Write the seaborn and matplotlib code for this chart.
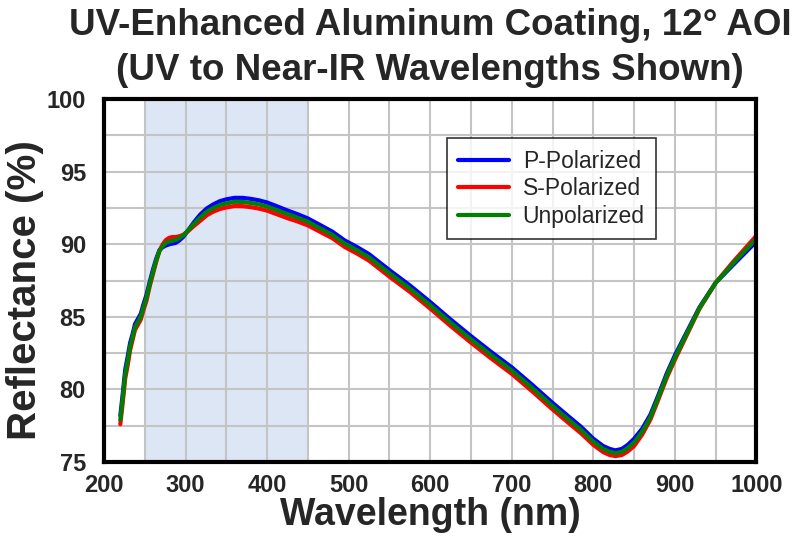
import numpy as np
import pandas as pd
import matplotlib
matplotlib.use("Agg")
import matplotlib.pyplot as plt
import seaborn as sns

# Wavelength (nm) and reflectance (%)
wavelength = [220, 223, 226, 229, 232, 235, 238, 242, 245, 248, 252, 256, 260, 264, 268, 272,
              276, 280, 284, 288, 292, 297, 303, 310, 318, 326, 334, 342, 350, 360, 370, 380,
              390, 400, 412, 425, 438, 450, 465, 480, 495, 510, 525, 550, 575, 600, 625, 650,
              675, 700, 725, 750, 770, 785, 800, 812, 820, 827, 835, 842, 850, 860, 870, 880,
              890, 900, 915, 930, 950, 970, 985, 1000]
p_pol = [78.2, 79.7, 81.35, 82.25, 83.2, 83.8, 84.5, 84.9, 85.2, 85.8, 86.5, 87.4, 88.25, 89.0, 89.6, 89.8,
         89.92, 90.0, 90.05, 90.1, 90.25, 90.5, 90.95, 91.5, 92.05, 92.47, 92.75, 92.97, 93.1, 93.2, 93.2, 93.13,
         93.03, 92.88, 92.62, 92.33, 92.06, 91.78, 91.33, 90.87, 90.27, 89.82, 89.32, 88.22, 87.17, 86.02, 84.82, 83.67,
         82.57, 81.52, 80.32, 79.07, 78.12, 77.42, 76.6, 76.1, 75.9, 75.8, 75.9, 76.17, 76.6, 77.3, 78.27, 79.65,
         81.1, 82.35, 84.0, 85.65, 87.35, 88.5, 89.35, 90.2]
s_pol = [77.6, 79.1, 80.75, 81.65, 82.7, 83.4, 84.1, 84.5, 84.8, 85.4, 86.1, 87.1, 87.95, 88.8, 89.55, 90.0,
         90.3, 90.45, 90.5, 90.5, 90.55, 90.65, 90.9, 91.25, 91.62, 92.0, 92.25, 92.43, 92.54, 92.64, 92.63, 92.56,
         92.46, 92.32, 92.07, 91.8, 91.56, 91.3, 90.86, 90.42, 89.82, 89.37, 88.87, 87.77, 86.72, 85.57, 84.37, 83.22,
         82.12, 81.07, 79.87, 78.62, 77.67, 76.97, 76.18, 75.68, 75.48, 75.4, 75.48, 75.72, 76.1, 76.9, 77.93, 79.35,
         80.8, 82.05, 83.8, 85.55, 87.35, 88.7, 89.65, 90.6]
unpol = [77.9, 79.4, 81.05, 81.95, 82.95, 83.6, 84.3, 84.7, 85.0, 85.6, 86.3, 87.25, 88.1, 88.9, 89.55, 89.88,
         90.1, 90.2, 90.25, 90.3, 90.42, 90.6, 90.95, 91.4, 91.85, 92.24, 92.5, 92.7, 92.82, 92.93, 92.92, 92.85,
         92.75, 92.6, 92.35, 92.08, 91.82, 91.55, 91.1, 90.65, 90.05, 89.6, 89.1, 88.0, 86.95, 85.8, 84.6, 83.45,
         82.35, 81.3, 80.1, 78.85, 77.9, 77.2, 76.4, 75.9, 75.7, 75.6, 75.7, 75.95, 76.35, 77.1, 78.1, 79.5,
         80.95, 82.2, 83.9, 85.6, 87.35, 88.6, 89.5, 90.4]

series_names = ["P-Polarized", "S-Polarized", "Unpolarized"]
series_colors = ["#0000ff", "#ff0000", "#008000"]

df = pd.concat([
    pd.DataFrame({"Wavelength": wavelength, "Reflectance": vals, "Series": name})
    for name, vals in zip(series_names, [p_pol, s_pol, unpol])
], ignore_index=True)

sns.set_style("white")
plt.rcParams["font.family"] = ["Liberation Sans", "DejaVu Sans"]

fig = plt.figure(figsize=(8, 5.48), dpi=100)
ax = fig.add_axes([0.13, 0.157, 0.8156, 0.662])

# highlighted band
ax.axvspan(250, 450, color="#dce6f5", zorder=0, lw=0)

sns.lineplot(data=df, x="Wavelength", y="Reflectance", hue="Series",
             hue_order=series_names, palette=series_colors, linewidth=3,
             ax=ax, legend=True, sort=False, solid_joinstyle="round")

ax.set_xlim(200, 1000)
ax.set_ylim(75, 100)
ax.set_xticks(np.arange(200, 1001, 100))
ax.set_xticks(np.arange(250, 1000, 100), minor=True)
ax.set_yticks(np.arange(75, 101, 5))
ax.set_yticks(np.arange(77.5, 100, 5), minor=True)
ax.grid(True, which="both", color="#c4c4c4", linewidth=1.5, zorder=1)
ax.set_axisbelow(True)

for s in ax.spines.values():
    s.set_linewidth(3)
    s.set_color("black")
ax.tick_params(axis="both", which="major", direction="out", length=4, width=2.5,
               labelsize=17)
ax.tick_params(axis="x", which="major", pad=5)
ax.tick_params(axis="y", which="major", pad=9)
ax.tick_params(axis="x", which="minor", direction="out", length=4, width=2.5)
ax.tick_params(axis="y", which="minor", length=0)
for lab in ax.get_xticklabels() + ax.get_yticklabels():
    lab.set_fontweight("bold")

ax.set_xlabel("Wavelength (nm)", fontsize=27, fontweight="bold", labelpad=0)
ax.set_ylabel("Reflectance (%)", fontsize=29, fontweight="bold")
ax.yaxis.set_label_coords(-0.092, 0.474)

fig.text(0.5375, 0.936, "UV-Enhanced Aluminum Coating, 12° AOI", ha="center",
         va="baseline", fontsize=26.5, fontweight="bold")
fig.text(0.5375, 0.854, "(UV to Near-IR Wavelengths Shown)", ha="center",
         va="baseline", fontsize=26.5, fontweight="bold")

leg = ax.legend(loc="upper left", bbox_to_anchor=(0.5257, 0.8926), fontsize=16.5,
                frameon=True, fancybox=False, edgecolor="black", handlelength=2.2,
                handletextpad=0.6, borderpad=0.5, labelspacing=0.2, borderaxespad=0)
leg.get_frame().set_linewidth(1.2)
for line in leg.get_lines():
    line.set_linewidth(3)

fig.savefig("out.png", dpi=100)
